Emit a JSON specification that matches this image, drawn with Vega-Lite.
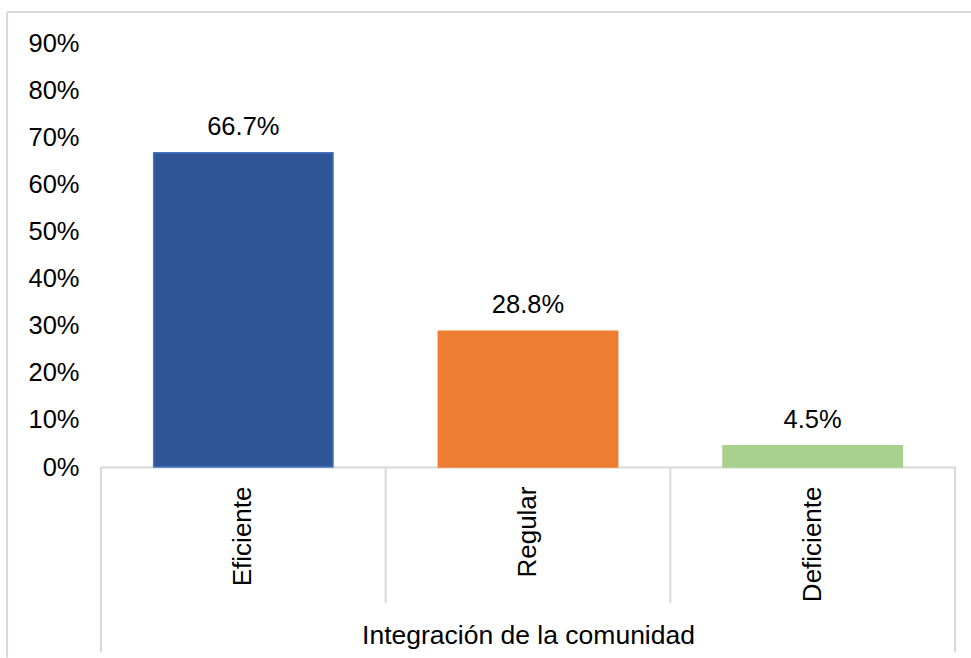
{
  "$schema": "https://vega.github.io/schema/vega-lite/v6.json",
  "width": 854,
  "height": 424,
  "autosize": {"type": "none"},
  "padding": {"left": 101, "top": 43, "right": 16, "bottom": 191},
  "background": "white",
  "config": {"view": {"stroke": null}, "font": "Liberation Sans"},
  "layer": [
    {
      "data": {"values": [
        {"x": -0.33, "x2": -0.33, "y": 0.966, "y2": -0.405},
        {"x": -0.33, "x2": 3.06, "y": 0.966, "y2": 0.966},
        {"x": 0, "x2": 0, "y": 0, "y2": -0.393},
        {"x": 1, "x2": 1, "y": 0, "y2": -0.289},
        {"x": 2, "x2": 2, "y": 0, "y2": -0.289},
        {"x": 3, "x2": 3, "y": 0, "y2": -0.393}
      ]},
      "mark": {"type": "rule", "color": "#D9D9D9", "strokeWidth": 2},
      "encoding": {
        "x": {"field": "x", "type": "quantitative", "scale": {"domain": [0, 3], "nice": false, "zero": false}, "axis": null},
        "x2": {"field": "x2"},
        "y": {"field": "y", "type": "quantitative", "scale": {"domain": [0, 0.9], "nice": false, "zero": false}, "axis": null},
        "y2": {"field": "y2"}
      }
    },
    {
      "data": {"values": [
        {"categoria": "Eficiente", "porcentaje": 0.667},
        {"categoria": "Regular", "porcentaje": 0.288},
        {"categoria": "Deficiente", "porcentaje": 0.045}
      ]},
      "encoding": {
        "x": {
          "field": "categoria", "type": "nominal", "sort": null,
          "scale": {"paddingInner": 0.37, "paddingOuter": 0.185},
          "axis": {
            "labelAngle": 270, "labelFontSize": 26, "labelColor": "#000000", "labelPadding": 19,
            "ticks": false, "domain": true, "domainColor": "#D9D9D9", "domainWidth": 2,
            "title": "Integración de la comunidad", "titleFontSize": 26.5, "titleFontWeight": "normal",
            "titleColor": "#000000", "titleBaseline": "alphabetic", "titleY": 176
          }
        },
        "y": {
          "field": "porcentaje", "type": "quantitative",
          "scale": {"domain": [0, 0.9], "nice": false, "zero": false},
          "axis": {
            "values": [0, 0.1, 0.2, 0.3, 0.4, 0.5, 0.6, 0.7, 0.8, 0.9],
            "format": ".0%", "labelFontSize": 25.5, "labelColor": "#000000", "labelPadding": 22,
            "ticks": false, "domain": false, "grid": false, "title": null
          }
        }
      },
      "layer": [
        {
          "mark": {"type": "bar", "strokeWidth": 1.5},
          "encoding": {
            "color": {"field": "categoria", "type": "nominal", "scale": {"domain": ["Eficiente", "Regular", "Deficiente"], "range": ["#2F5597", "#ED7D31", "#A9D18E"]}, "legend": null},
            "stroke": {"field": "categoria", "type": "nominal", "scale": {"domain": ["Eficiente", "Regular", "Deficiente"], "range": ["#4472C4", "#ED7D31", "#A9D18E"]}, "legend": null}
          }
        },
        {
          "mark": {"type": "text", "baseline": "alphabetic", "dy": -18, "fontSize": 25.5, "color": "#000000"},
          "encoding": {"text": {"field": "porcentaje", "type": "quantitative", "format": ".1%"}}
        }
      ]
    }
  ],
  "resolve": {"scale": {"x": "independent", "y": "independent"}}
}
